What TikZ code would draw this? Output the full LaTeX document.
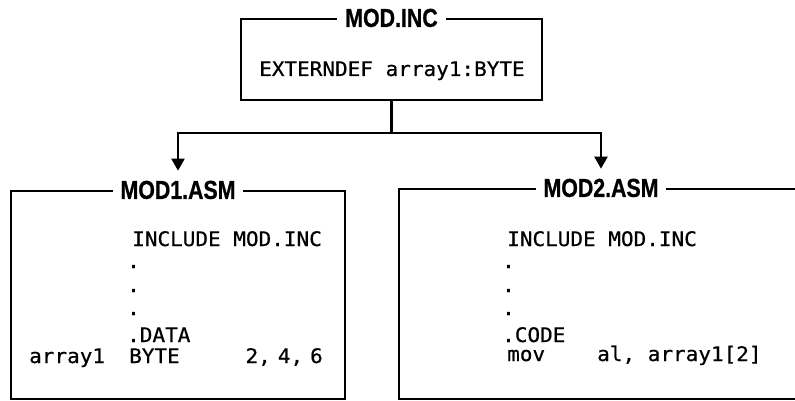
\documentclass[tikz,border=0pt]{standalone}
\usepackage{fontspec}
\usetikzlibrary{arrows.meta,positioning}
\newfontfamily\codefont[FakeStretch=1.05,FakeBold=0.6]{DejaVu Sans Mono}
\newfontfamily\headfont[FakeStretch=0.82,FakeBold=0.8]{Liberation Sans}
\tikzset{
    filebox/.style={draw, line width=2.2pt, inner sep=0pt},
    filetitle/.style={fill=white, font=\headfont\bfseries\fontsize{26}{27}\selectfont,
        text height=18pt, text depth=0pt, inner xsep=8pt, inner ysep=10pt},
    codeline/.style={anchor=base west, inner sep=0pt,
        font=\codefont\fontsize{20}{21}\selectfont},
    linkarrow/.style={-{Triangle[width=13pt,length=12pt]}, line width=2.2pt}
}

\begin{document}
\begin{tikzpicture}[x=1pt, y=-1pt]
\useasboundingbox (0,0) rectangle (795,401);
\clip (0,0) rectangle (795,401);
% the three files
\node[filebox, minimum width=301pt, minimum height=81pt] (incbox) at (391.5,59.5) {};
\node[filebox, minimum width=334pt, minimum height=208pt] (mod1box) at (178,295) {};
\node[filebox, minimum width=404pt, minimum height=210pt] (mod2box) at (601,294) {};
\node[filetitle] (inctitle) at (incbox.north) {MOD.INC};
\node[filetitle] (mod1title) at (mod1box.north) {MOD1.ASM};
\node[filetitle] (mod2title) at (mod2box.north) {MOD2.ASM};
% MOD.INC
\node[codeline] (extdef) at (259,76) {EXTERNDEF array1:BYTE};
% MOD1.ASM
\node[codeline] (inc1) at (132,246) {INCLUDE MOD.INC};
\node[codeline] (dot1a) at (127,268) {.};
\node[codeline] (dot1b) at (127,292) {.};
\node[codeline] (dot1c) at (127,315) {.};
\node[codeline] (data) at (127,342) {.DATA};
\node[codeline] (arrname) at (29,363) {array1};
\node[codeline] (arrtype) at (129,363) {BYTE};
\node[codeline, anchor=base east] (arrvals) at (323,363) {2,\hspace{7pt}4,\hspace{7pt}6};
% MOD2.ASM
\node[codeline] (inc2) at (507,246) {INCLUDE MOD.INC};
\node[codeline] (dot2a) at (502,268) {.};
\node[codeline] (dot2b) at (502,292) {.};
\node[codeline] (dot2c) at (502,315) {.};
\node[codeline] (code) at (502,342) {.CODE};
\node[codeline] (movop) at (507,361) {mov};
\node[codeline] (movargs) at (597,361) {al, array1[2]};
% include links
\coordinate (fork) at (391.5,133);
\draw[line width=2.2pt] (incbox.south) -- (fork);
\draw[linkarrow] (fork) -| (mod1title.north);
\draw[linkarrow] (fork) -| (mod2title.north);
\end{tikzpicture}
\end{document}
